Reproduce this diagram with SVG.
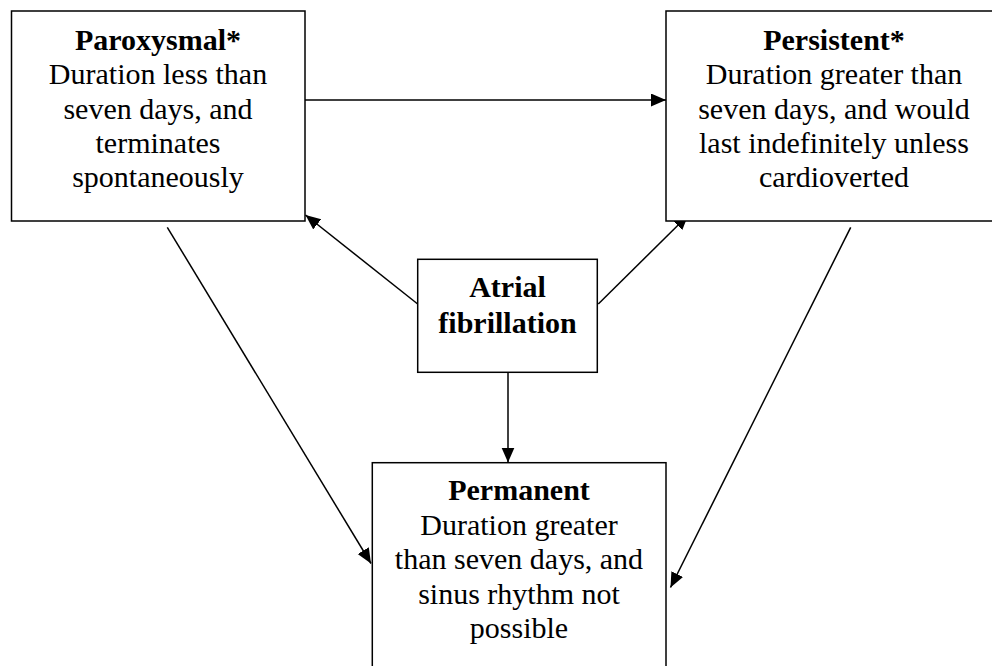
<svg xmlns="http://www.w3.org/2000/svg" width="992" height="666" viewBox="0 0 992 666">
<style>
.box{fill:#fff;stroke:#000;stroke-width:1.5}
.t{font-family:"Liberation Serif","Times New Roman",serif;font-size:30px;fill:#000;text-anchor:middle}
.b{font-weight:bold}
.c{stroke:#000;stroke-width:1.5;fill:none;marker-end:url(#ah)}
</style>
<defs>
<marker id="ah" markerUnits="userSpaceOnUse" markerWidth="16" markerHeight="14" refX="15" refY="6.5" orient="auto">
<path d="M0,0 L15,6.5 L0,13 z" fill="#000"/>
</marker>
</defs>
<rect width="992" height="666" fill="#fff"/>
<g id="connectors">
<line class="c" x1="305" y1="100" x2="666" y2="100"/>
<line class="c" x1="417.7" y1="304" x2="305.5" y2="215"/>
<line class="c" x1="598.3" y1="304" x2="688.3" y2="215"/>
<line class="c" x1="508" y1="372.5" x2="508" y2="462.5"/>
<line class="c" x1="167.3" y1="227.3" x2="371" y2="563.5"/>
<line class="c" x1="850.7" y1="227.3" x2="670.5" y2="587.5"/>
</g>
<g id="paroxysmal">
<rect class="box" x="11.5" y="11" width="293.5" height="210"/>
<text class="t b" x="158" y="49.5">Paroxysmal*</text>
<text class="t" x="158" y="84">Duration less than</text>
<text class="t" x="158" y="118.5">seven days, and</text>
<text class="t" x="158" y="153">terminates</text>
<text class="t" x="158" y="187">spontaneously</text>
</g>
<g id="persistent">
<rect class="box" x="666" y="11" width="336" height="210"/>
<text class="t b" x="834" y="49.5">Persistent*</text>
<text class="t" x="834" y="84">Duration greater than</text>
<text class="t" x="834" y="118.5">seven days, and would</text>
<text class="t" x="834" y="153">last indefinitely unless</text>
<text class="t" x="834" y="187">cardioverted</text>
</g>
<g id="atrial">
<rect class="box" x="417.7" y="259.3" width="179.6" height="113"/>
<text class="t b" x="507.5" y="297.3">Atrial</text>
<text class="t b" x="507.5" y="332.5">fibrillation</text>
</g>
<g id="permanent">
<rect class="box" x="372.3" y="462.7" width="293.7" height="220"/>
<text class="t b" x="519" y="500">Permanent</text>
<text class="t" x="519" y="534.5">Duration greater</text>
<text class="t" x="519" y="569">than seven days, and</text>
<text class="t" x="519" y="603.5">sinus rhythm not</text>
<text class="t" x="519" y="638">possible</text>
</g>
</svg>
